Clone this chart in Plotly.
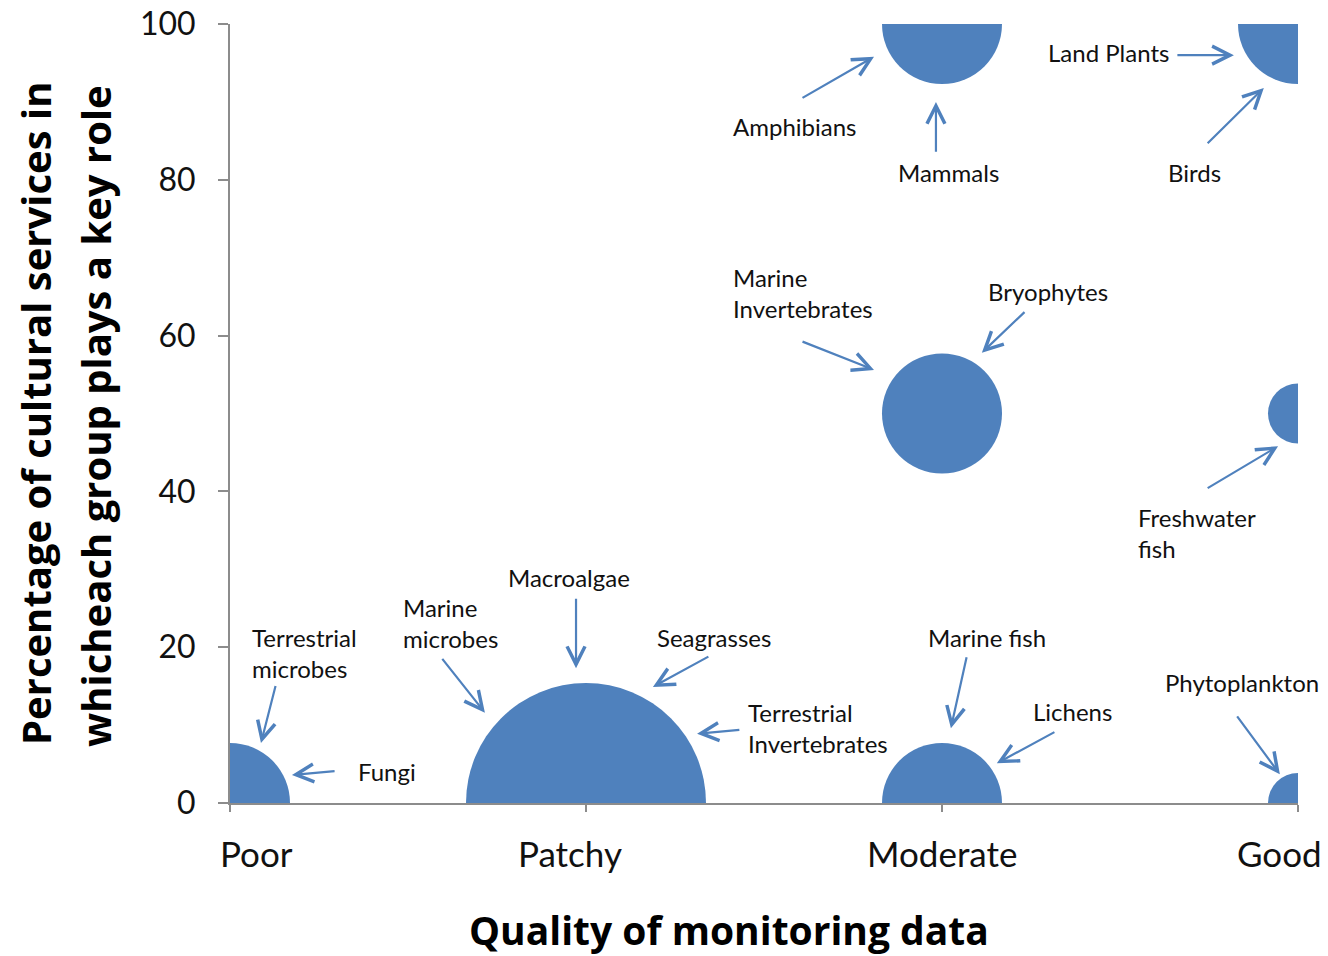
import plotly.graph_objects as go

# ---- data ----
quality_labels = ["Poor", "Patchy", "Moderate", "Good"]
bubble_quality = [0, 1, 2, 3, 2, 3, 2, 3]          # index into quality_labels
bubble_percent = [0, 0, 0, 0, 50, 50, 100, 100]    # % of cultural services
bubble_groups = [2, 4, 2, 1, 2, 1, 2, 2]           # number of taxonomic groups in bubble

group_names = [
    "Amphibians", "Mammals", "Land Plants", "Birds",
    "Marine<br>Invertebrates", "Bryophytes", "Freshwater<br>fish",
    "Terrestrial<br>microbes", "Fungi", "Marine<br>microbes", "Macroalgae",
    "Seagrasses", "Terrestrial<br>Invertebrates", "Marine fish", "Lichens",
    "Phytoplankton",
]
y_ticks = [0, 20, 40, 60, 80, 100]

# ---- label / arrow layout (data coordinates) ----
label_pos = [
    (1.407, 86.8), (1.871, 81.0), (2.292, 96.4), (2.629, 81.0),
    (1.407, 65.5), (2.124, 65.6), (2.545, 34.7),
    (0.056, 19.3), (0.354, 4.0), (0.480, 23.1), (0.775, 29.0),
    (1.194, 21.3), (1.449, 9.6), (1.955, 21.3), (2.250, 11.7),
    (2.620, 15.5),
]
arrow_tail = [
    (1.604, 90.4), (1.983, 83.4), (2.657, 96.0), (2.742, 84.5),
    (1.604, 59.3), (2.236, 63.2), (2.742, 40.3),
    (0.129, 15.2), (0.298, 4.1), (0.593, 18.7), (0.972, 26.4),
    (1.348, 18.9), (1.435, 9.4), (2.070, 18.9), (2.320, 9.2),
    (2.826, 11.3),
]
arrow_head = [
    (1.809, 95.8), (1.983, 90.0), (2.820, 96.0), (2.904, 91.8),
    (1.809, 55.6), (2.112, 57.8), (2.944, 45.8),
    (0.087, 7.7), (0.174, 3.6), (0.716, 11.6), (0.972, 17.3),
    (1.188, 14.9), (1.312, 8.9), (2.025, 9.6), (2.154, 5.1),
    (2.949, 3.7),
]
cat_label_shift = [26, -16, 0, -19]

BLUE = "#4F81BD"
GRAY = "#8C8C8C"
FONT = "Lato"
TITLE_FONT = "Open Sans"
TXT = "#111111"

fig = go.Figure()
fig.add_trace(go.Scatter(
    x=bubble_quality, y=bubble_percent, mode="markers",
    marker=dict(size=bubble_groups, sizemode="diameter", sizeref=1 / 60,
                color=BLUE, opacity=1, line=dict(width=0)),
    cliponaxis=True, hoverinfo="skip", showlegend=False,
))

annotations = []
for name, (lx, ly), (tx, ty), (hx, hy) in zip(group_names, label_pos, arrow_tail, arrow_head):
    annotations.append(dict(
        x=lx, y=ly, xref="x", yref="y", text=name, showarrow=False,
        xanchor="left", yanchor="middle", align="left",
        font=dict(family=FONT, size=24, color=TXT),
    ))
    annotations.append(dict(
        x=hx, y=hy, ax=tx, ay=ty, xref="x", yref="y", axref="x", ayref="y",
        text="", showarrow=True, arrowhead=5, arrowsize=1.6, arrowwidth=2.2,
        arrowcolor=BLUE, standoff=0, startstandoff=0,
    ))

for i, lab in enumerate(quality_labels):
    annotations.append(dict(
        x=i, y=0, xref="x", yref="paper", yshift=-50, xshift=cat_label_shift[i],
        text=lab, showarrow=False, xanchor="center", yanchor="middle",
        bgcolor="white", borderpad=12,
        font=dict(family=FONT, size=35, color=TXT),
    ))

# axis titles
annotations.append(dict(
    x=(35 - 230) / 1068, y=(803 - 414) / 779, xref="paper", yref="paper", textangle=-90,
    text="<b>Percentage of cultural services in</b>", showarrow=False,
    xanchor="center", yanchor="middle", font=dict(family=TITLE_FONT, size=40, color="black"),
))
annotations.append(dict(
    x=(95 - 230) / 1068, y=(803 - 416) / 779, xref="paper", yref="paper", textangle=-90,
    text="<b>whicheach group plays a key role</b>", showarrow=False,
    xanchor="center", yanchor="middle", font=dict(family=TITLE_FONT, size=40, color="black"),
))
annotations.append(dict(
    x=(729 - 230) / 1068, y=(803 - 929) / 779, xref="paper", yref="paper",
    text="<b>Quality of monitoring data</b>", showarrow=False,
    xanchor="center", yanchor="middle", font=dict(family=TITLE_FONT, size=39, color="black"),
))

fig.update_layout(
    width=1320, height=948,
    margin=dict(l=222, r=30, t=16, b=153, autoexpand=False),
    paper_bgcolor="white", plot_bgcolor="rgba(0,0,0,0)",
    annotations=annotations,
    xaxis=dict(range=[0, 3], tickvals=list(range(len(quality_labels))),
               showticklabels=False, ticks="outside", ticklen=7, tickwidth=2,
               tickcolor=GRAY, showline=True, linecolor=GRAY, linewidth=2,
               showgrid=False, zeroline=False, layer="below traces",
               automargin=False, fixedrange=True),
    yaxis=dict(range=[0, 100], tickvals=y_ticks, ticks="outside", ticklen=10,
               tickwidth=2, tickcolor=GRAY, showline=True, linecolor=GRAY,
               linewidth=2, showgrid=False, zeroline=False, layer="below traces",
               ticklabelstandoff=16, ticklabeloverflow="allow", automargin=False,
               tickfont=dict(family=FONT, size=32, color=TXT)),
)

fig.write_html("out.html")
